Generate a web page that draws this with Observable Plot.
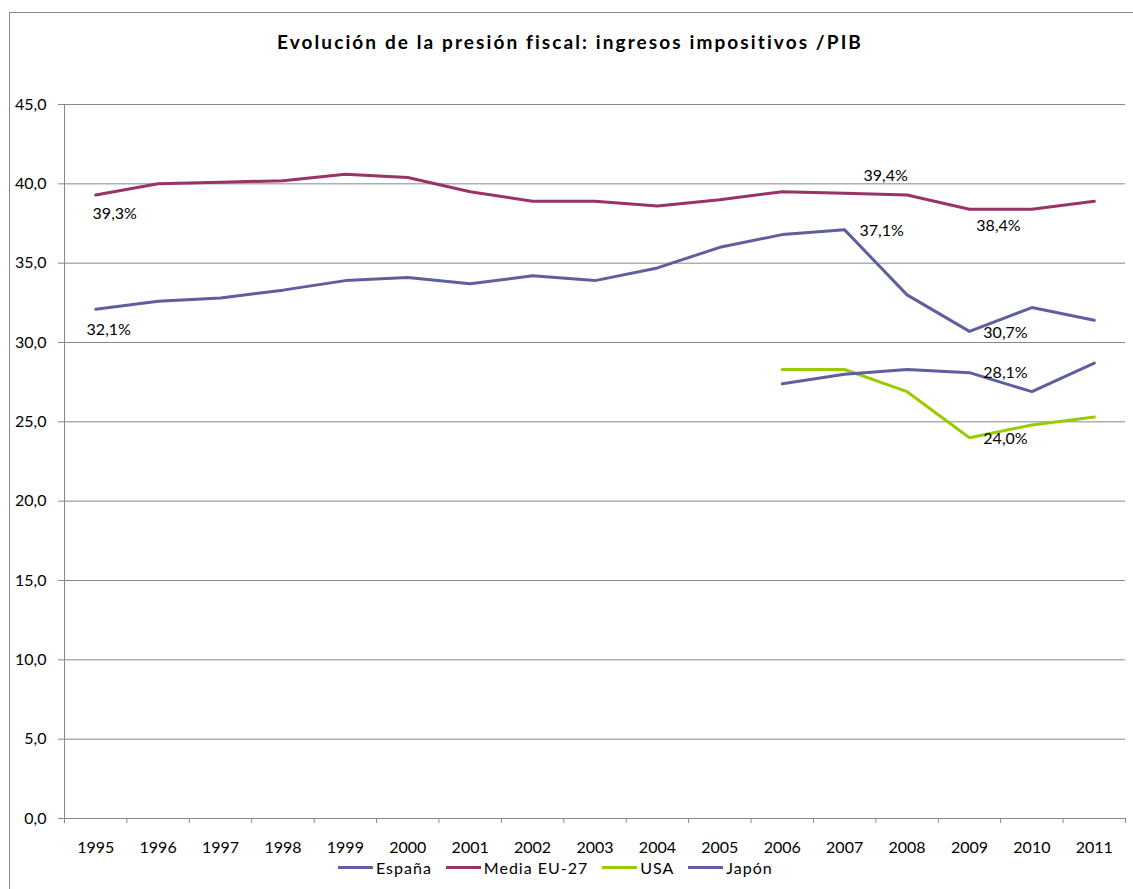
<!DOCTYPE html>
<html>
<head>
<meta charset="utf-8">
<script src="https://cdn.jsdelivr.net/npm/d3@7"></script>
<script src="https://cdn.jsdelivr.net/npm/@observablehq/plot@0.6"></script>
<style>
  html, body { margin: 0; padding: 0; background: #fff; overflow: hidden; }
  body { width: 1133px; height: 889px; position: relative; font-family: Lato, "Open Sans", sans-serif; }
  #frame { position: absolute; left: 9px; top: 12px; width: 1200px; height: 1000px; border: 1px solid #8a8a8a; box-sizing: border-box; }
  #title { position: absolute; left: 0; width: 1140px; top: 30px; text-align: center; font-weight: bold; font-size: 19px; letter-spacing: 2.1px; color: #000; }
  #chart { position: absolute; left: 0; top: 80px; }
  #legend { position: absolute; left: 338px; top: 858px; display: flex; align-items: center; font-size: 16px; letter-spacing: 1px; color: #000; }
  #legend .item { display: flex; align-items: center; margin-right: 14px; }
  #legend .swatch { width: 35px; height: 3px; margin-right: 3px; }
</style>
</head>
<body>
<div id="frame"></div>
<div id="title">Evolución de la presión fiscal: ingresos impositivos /PIB</div>
<div id="chart"></div>
<div id="legend"></div>
<script>
const years = [1995, 1996, 1997, 1998, 1999, 2000, 2001, 2002, 2003, 2004, 2005, 2006, 2007, 2008, 2009, 2010, 2011];
const seriesNames = ["España", "Media EU-27", "USA", "Japón"];
const seriesColors = ["#5f5fa0", "#993366", "#99cc00", "#5f5fa0"];
const espana =  [32.1, 32.6, 32.8, 33.3, 33.9, 34.1, 33.7, 34.2, 33.9, 34.7, 36.0, 36.8, 37.1, 33.0, 30.7, 32.2, 31.4];
const mediaUE = [39.3, 40.0, 40.1, 40.2, 40.6, 40.4, 39.5, 38.9, 38.9, 38.6, 39.0, 39.5, 39.4, 39.3, 38.4, 38.4, 38.9];
const usa =     [null, null, null, null, null, null, null, null, null, null, null, 28.3, 28.3, 26.9, 24.0, 24.8, 25.3];
const japon =   [null, null, null, null, null, null, null, null, null, null, null, 27.4, 28.0, 28.3, 28.1, 26.9, 28.7];
const yTicks = [0, 5, 10, 15, 20, 25, 30, 35, 40, 45];

const valuesBySeries = [espana, mediaUE, usa, japon];
const rows = [];
seriesNames.forEach((s, i) => {
  years.forEach((y, j) => {
    const v = valuesBySeries[i][j];
    if (v != null) rows.push({series: s, year: y, value: v});
  });
});

const fmtComma = (v) => v.toFixed(1).replace(".", ",");
const fmtPct = (v) => fmtComma(v) + "%";
const pick = (s, y) => rows.filter((r) => r.series === s && r.year === y);
const label = (s, y, dx, dy) => Plot.text(pick(s, y), {
  x: "year", y: "value", text: (d) => fmtPct(d.value), dx, dy,
  fontSize: 16, fill: "#000", textAnchor: "middle"
});

const halfTicks = d3.range(years[0] - 0.5, years[years.length - 1] + 1, 1);

const chart = Plot.plot({
  width: 1133,
  height: 778,
  marginTop: 24,
  marginBottom: 40,
  marginLeft: 64,
  marginRight: 8,
  style: {fontFamily: "Lato, 'Open Sans', sans-serif", fontSize: "16px", color: "#000", background: "transparent"},
  x: {domain: [years[0] - 0.5, years[years.length - 1] + 0.5], axis: null, label: null},
  y: {domain: [0, 45], axis: null, label: null},
  color: {domain: seriesNames, range: seriesColors},
  marks: [
    Plot.gridY(yTicks, {stroke: "#888", strokeOpacity: 1}),
    Plot.ruleX([years[0] - 0.5], {stroke: "#888"}),
    Plot.ruleY([0], {stroke: "#888"}),
    Plot.axisY({ticks: yTicks, tickFormat: fmtComma, tickSize: 6, tickPadding: 12, stroke: "#888", fill: "#000", fontSize: 16, label: null}),
    Plot.axisX({ticks: halfTicks, tickFormat: () => "", tickSize: 5, stroke: "#888", label: null}),
    Plot.axisX({ticks: years, tickFormat: (d) => String(d), tickSize: 0, tickPadding: 23, fill: "#000", fontSize: 16, label: null}),
    Plot.line(rows, {x: "year", y: "value", z: "series", stroke: "series", strokeWidth: 3, curve: "linear"}),
    label("Media EU-27", 1995, 19, 19),
    label("España", 1995, 13, 21),
    label("España", 2007, 37, 1),
    label("Media EU-27", 2007, 41, -17),
    label("Media EU-27", 2009, 29, 17),
    label("España", 2009, 36, 1),
    label("Japón", 2009, 36, 0),
    label("USA", 2009, 36, 1)
  ]
});
document.getElementById("chart").appendChild(chart);

const legend = document.getElementById("legend");
const legendLabels = ["España", "Media EU-27", "USA", "Japón"];
legendLabels.forEach((name) => {
  const item = document.createElement("div");
  item.className = "item";
  const sw = document.createElement("div");
  sw.className = "swatch";
  sw.style.background = seriesColors[seriesNames.indexOf(name)];
  const t = document.createElement("span");
  t.textContent = name;
  item.appendChild(sw);
  item.appendChild(t);
  legend.appendChild(item);
});
</script>
</body>
</html>
